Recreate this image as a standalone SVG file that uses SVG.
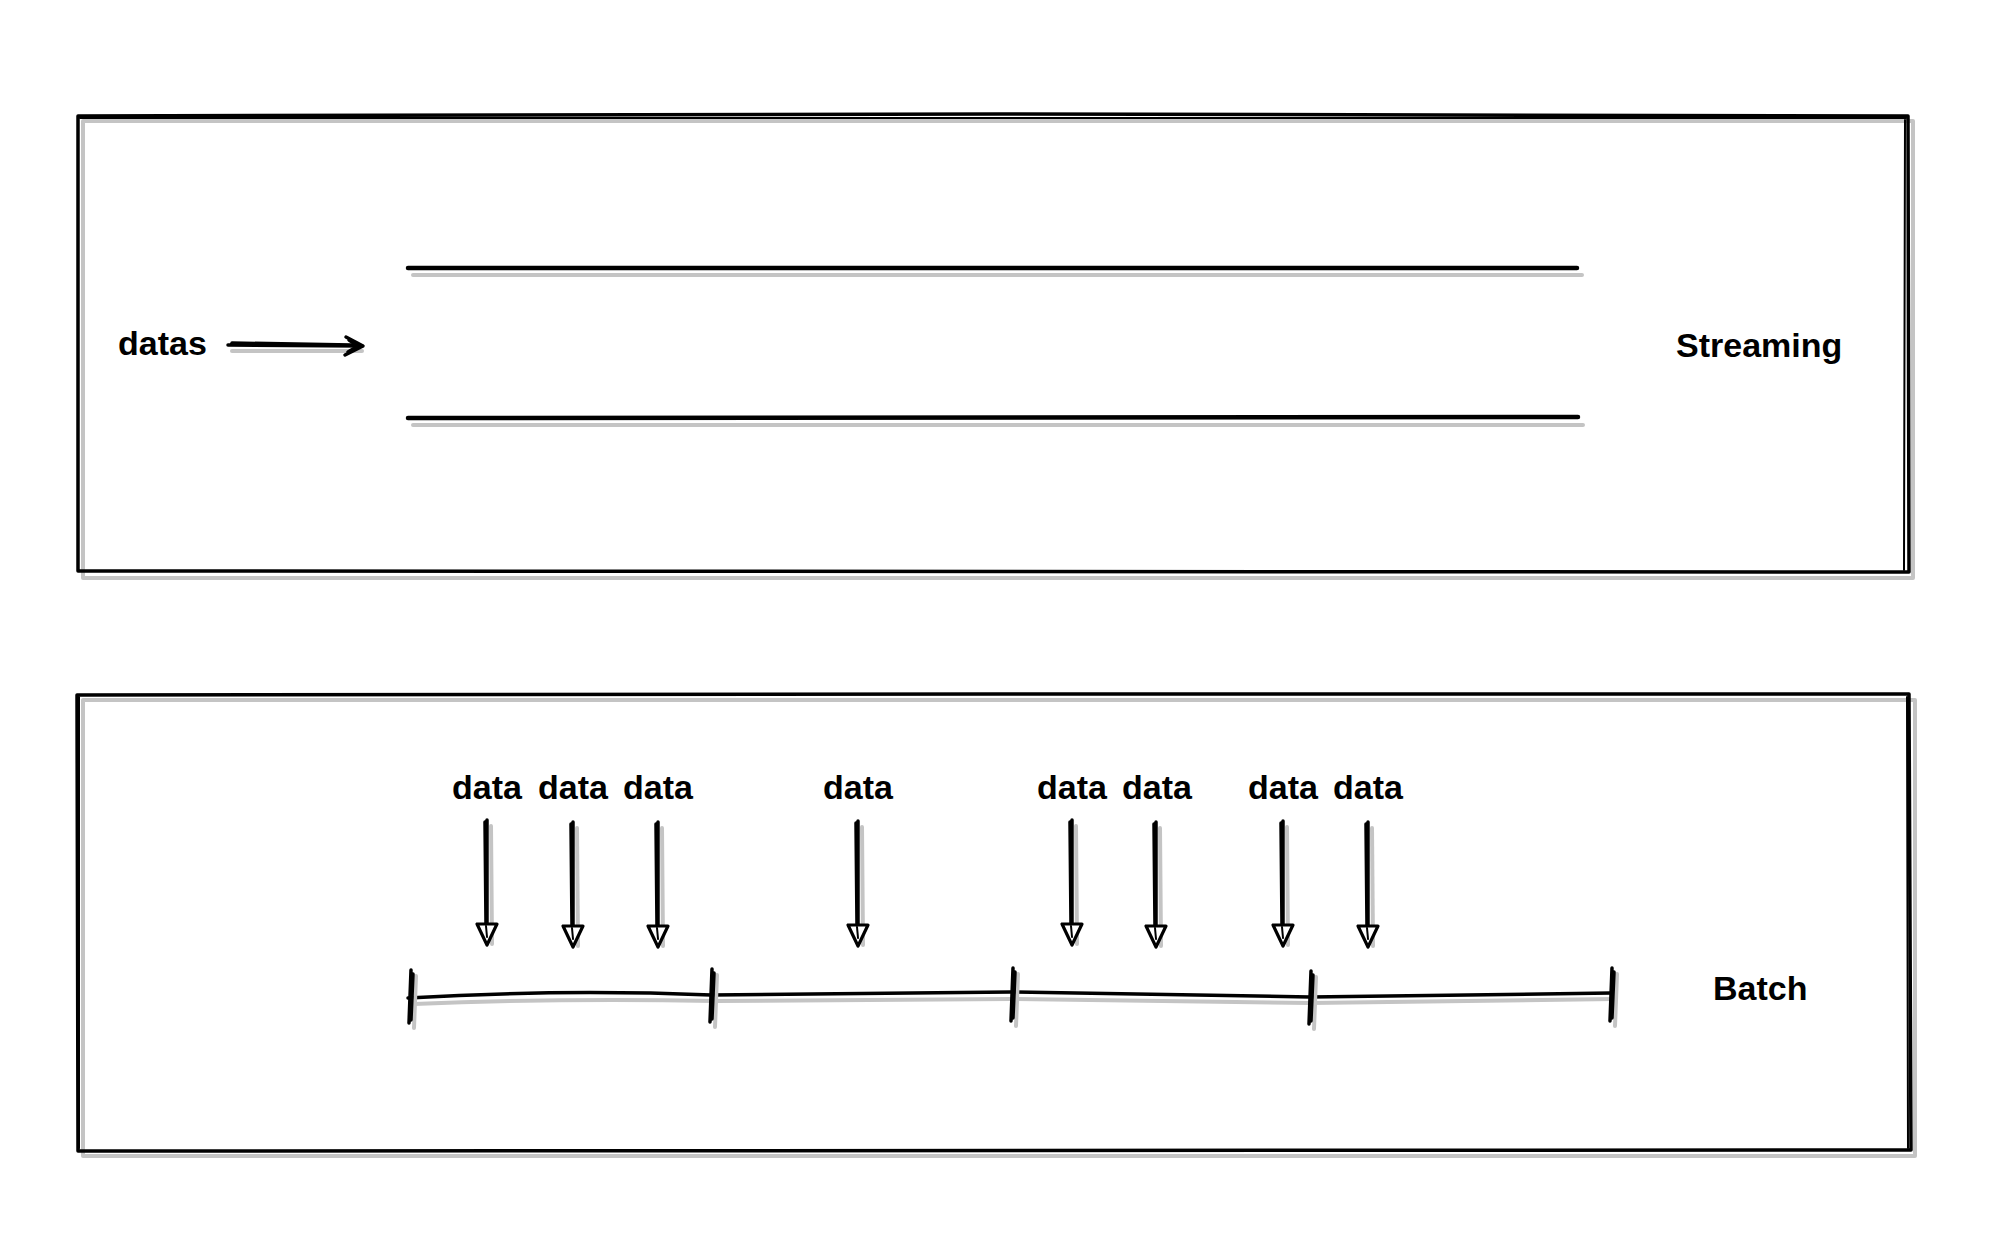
<svg xmlns="http://www.w3.org/2000/svg" width="1990" height="1250" viewBox="0 0 1990 1250">
<style>
.ink{fill:none;stroke:#000;stroke-width:3.5;stroke-linecap:round;stroke-linejoin:round}
.thin{fill:none;stroke:#000;stroke-width:2;stroke-linecap:round;stroke-linejoin:round}
.shade{fill:none;stroke:#c4c4c4;stroke-width:4;stroke-linecap:round;stroke-linejoin:round}
.head{fill:#fff;stroke:#000;stroke-width:3.2;stroke-linejoin:round}
.lbl{font-family:"Liberation Sans",Arial,sans-serif;font-weight:bold;font-size:34px;fill:#000}
</style>
<defs>
<g id="darr">
<path class="shade" d="M4,6 L5,124"/>
<path class="ink" d="M0,0 L0,108 M-2,2 L-1,106"/>
<path class="head" d="M-10,104 L10,104 L0,125 Z"/>
<path class="thin" d="M-1,106 L0,117"/>
</g>
<g id="tick">
<path class="shade" d="M6,-20 L4,32"/>
<path class="ink" d="M1,-26 L-1,27 M3,-22 L1,24"/>
</g>
</defs>
<rect width="1990" height="1250" fill="#fff"/>

<g id="streaming-box">
<rect x="83" y="121" width="1830" height="457" class="shade"/>
<path class="ink" d="M78,116 L1000,114 L1908,116 L1909,572 L78,571 Z"/>
<path class="thin" d="M80,118 L1906,118 M1905,120 L1904,570"/>
</g>
<g id="stream-lines">
<path class="shade" d="M413,275 L1582,275 M413,425 L1583,425"/>
<path class="ink" d="M408,268 L1577,268 M408,418 L1578,417" style="stroke-width:4.5"/>
</g>
<g id="label-datas"><text class="lbl" x="118" y="355">datas</text></g>
<g id="label-streaming"><text class="lbl" x="1676" y="357">Streaming</text></g>

<g id="batch-box">
<rect x="83" y="700" width="1832" height="456" class="shade"/>
<path class="ink" d="M77,695 L1000,694 L1909,694 L1911,1150 L78,1151 Z"/>
<path class="thin" d="M79,697 L79,1148 M1907,697 L1908,1148"/>
</g>
<g id="label-batch"><text class="lbl" x="1713" y="1000">Batch</text></g>

<g id="timeline">
<path class="shade" d="M414,1004 Q560,998 715,1001 L1011,999 L1310,1003 L1614,999"/>
<path class="ink" d="M408,998 Q560,989 711,995 L1011,992 L1310,997 L1611,993"/>
<use href="#tick" x="410" y="996"/>
<use href="#tick" x="711" y="995"/>
<use href="#tick" x="1012" y="994"/>
<use href="#tick" x="1310" y="997"/>
<use href="#tick" x="1611" y="994"/>
</g>

<g id="data-labels">
<text class="lbl" x="487" y="799" text-anchor="middle">data</text>
<text class="lbl" x="573" y="799" text-anchor="middle">data</text>
<text class="lbl" x="658" y="799" text-anchor="middle">data</text>
<text class="lbl" x="858" y="799" text-anchor="middle">data</text>
<text class="lbl" x="1072" y="799" text-anchor="middle">data</text>
<text class="lbl" x="1157" y="799" text-anchor="middle">data</text>
<text class="lbl" x="1283" y="799" text-anchor="middle">data</text>
<text class="lbl" x="1368" y="799" text-anchor="middle">data</text>
</g>

<g id="connectors">
<path class="shade" d="M232,351 L362,351"/>
<path class="ink" d="M228,345 L362,346 M232,343 L352,345"/>
<path class="ink" d="M346,337 L363,346 L345,355 M349,340 L358,346 L348,352"/>
<use href="#darr" x="487" y="820"/>
<use href="#darr" x="573" y="822"/>
<use href="#darr" x="658" y="822"/>
<use href="#darr" x="858" y="821"/>
<use href="#darr" x="1072" y="820"/>
<use href="#darr" x="1156" y="822"/>
<use href="#darr" x="1283" y="821"/>
<use href="#darr" x="1368" y="822"/>
</g>
</svg>
